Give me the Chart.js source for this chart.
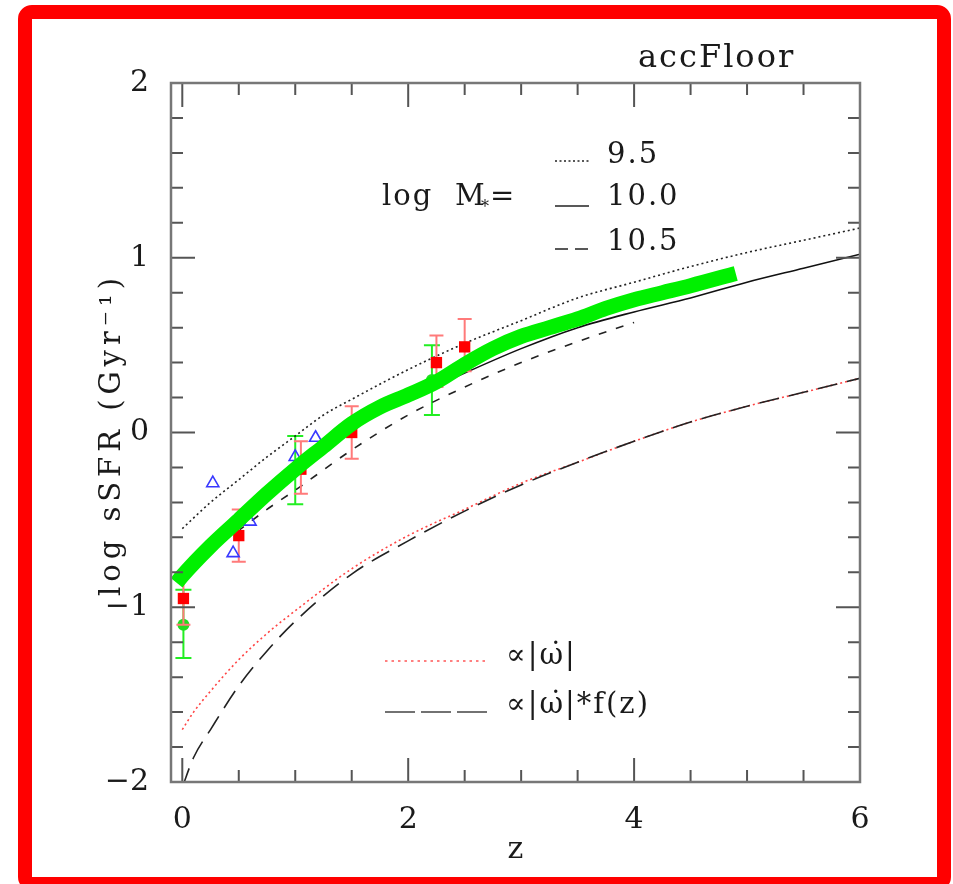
<!DOCTYPE html>
<html>
<head>
<meta charset="utf-8">
<script src="https://cdn.jsdelivr.net/npm/chart.js@4.4.1/dist/chart.umd.min.js"></script>
<style>
  html, body { margin:0; padding:0; background:#fff; }
  #wrap { position:relative; width:953px; height:884px; overflow:hidden; background:#fff; }
  #c { position:absolute; left:0; top:0; }
  #frame { position:absolute; left:18px; top:5px; width:933px; height:886px; box-sizing:border-box;
           border:14px solid #ff0000; border-radius:14px; pointer-events:none; }
</style>
</head>
<body>
<div id="wrap">
  <canvas id="c" width="953" height="884"></canvas>
  <div id="frame"></div>
</div>
<script>
// model curves, log sSFR vs z
var zCurve = [0, 0.25, 0.5, 0.75, 1, 1.25, 1.5, 2, 2.5, 3, 3.5, 4, 4.5, 5, 5.5, 6];
var sfr95  = [-0.55, -0.40, -0.27, -0.14, -0.02, 0.10, 0.19, 0.36, 0.51, 0.64, 0.77, 0.86, 0.95, 1.03, 1.10, 1.17];
var sfr100 = [-0.83, -0.65, -0.51, -0.36, -0.22, -0.09, 0.03, 0.19, 0.34, 0.48, 0.60, 0.69, 0.77, 0.86, 0.94, 1.02];
var zDash  = [0, 0.25, 0.5, 0.75, 1, 1.5, 2, 2.5, 3, 3.5, 4];
var sfr105 = [-0.83, -0.68, -0.56, -0.44, -0.33, -0.10, 0.10, 0.26, 0.40, 0.52, 0.63];
var zOmega = [0, 0.1, 0.25, 0.5, 0.75, 1, 1.5, 2, 2.5, 3, 3.5, 4, 4.5, 5, 5.5, 6];
var omega  = [-1.70, -1.60, -1.48, -1.30, -1.15, -1.02, -0.78, -0.59, -0.44, -0.29, -0.17, -0.05, 0.06, 0.15, 0.23, 0.31];
var omegaF = [-2.03, -1.86, -1.70, -1.45, -1.25, -1.08, -0.81, -0.62, -0.45, -0.30, -0.17, -0.05, 0.06, 0.15, 0.23, 0.31];
// thick green band
var zGreen    = [-0.05, 0, 0.25, 0.5, 0.75, 1, 1.25, 1.5, 1.75, 2, 2.25, 2.5, 2.75, 3, 3.25, 3.5, 3.75, 4, 4.25, 4.5, 4.9];
var greenLine = [-0.86, -0.82, -0.65, -0.50, -0.35, -0.21, -0.08, 0.05, 0.145, 0.215, 0.29, 0.39, 0.48, 0.55, 0.60, 0.65, 0.71, 0.76, 0.80, 0.84, 0.91];

// observations
var zRed  = [0.01, 0.5, 1.05, 1.5, 2.25, 2.5];
var yRed  = [-0.95, -0.59, -0.21, 0.0, 0.40, 0.49];
var hiRed = [-0.82, -0.44, -0.05, 0.15, 0.555, 0.65];
var loRed = [-1.10, -0.74, -0.35, -0.15, 0.26, 0.35];
var zGrn  = [0.01, 1.0, 2.21];
var yGrn  = [-1.10, -0.21, 0.30];
var hiGrn = [-0.90, -0.02, 0.50];
var loGrn = [-1.29, -0.41, 0.10];
var zBlue = [0.27, 0.45, 0.6, 1.0, 1.18];
var yBlue = [-0.29, -0.69, -0.51, -0.14, -0.03];

var xTickVals = [0, 2, 4, 6];
var yTickVals = [-2, -1, 0, 1, 2];

var serif = "'DejaVu Serif', 'Liberation Serif', serif";

function pts(xs, ys) {
  return xs.map(function (x, i) { return { x: x, y: ys[i] }; });
}

function curve(xs, ys, color, dash, width, order) {
  return {
    data: pts(xs, ys), showLine: true, pointRadius: 0, borderColor: color,
    borderWidth: width, borderDash: dash, borderCapStyle: 'butt',
    cubicInterpolationMode: 'monotone', clip: 0, order: order
  };
}

function drawBars(ctx, chart, xs, lo, hi, color, cap) {
  var sx = chart.scales.x, sy = chart.scales.y;
  ctx.save();
  ctx.strokeStyle = color;
  ctx.lineWidth = 2;
  for (var i = 0; i < xs.length; i++) {
    var px = sx.getPixelForValue(xs[i]);
    var p1 = sy.getPixelForValue(lo[i]);
    var p2 = sy.getPixelForValue(hi[i]);
    ctx.beginPath();
    ctx.moveTo(px, p1); ctx.lineTo(px, p2);
    ctx.moveTo(px - cap, p1); ctx.lineTo(px + cap, p1);
    ctx.moveTo(px - cap, p2); ctx.lineTo(px + cap, p2);
    ctx.stroke();
  }
  ctx.restore();
}

var errorBars = {
  id: 'errorBars',
  beforeDatasetsDraw: function (chart) {
    drawBars(chart.ctx, chart, zGrn, loGrn, hiGrn, '#22ee22', 8);
  },
  afterDatasetDraw: function (chart, args) {
    if (args.index === 5) drawBars(chart.ctx, chart, zRed, loRed, hiRed, '#ff7a7a', 7);
  }
};

var frameTicks = {
  id: 'frameTicks',
  afterDraw: function (chart) {
    var ctx = chart.ctx, a = chart.chartArea, sx = chart.scales.x, sy = chart.scales.y;
    ctx.save();
    ctx.strokeStyle = '#555';
    ctx.lineWidth = 2;
    var v, p, len;
    for (v = 0; v <= 6.001; v += 0.5) {
      p = sx.getPixelForValue(v);
      len = (Math.abs(v % 2) < 0.01) ? 24 : 12;
      ctx.beginPath();
      ctx.moveTo(p, a.bottom); ctx.lineTo(p, a.bottom - len);
      ctx.moveTo(p, a.top); ctx.lineTo(p, a.top + len);
      ctx.stroke();
    }
    for (v = -2; v <= 2.001; v += 0.2) {
      p = sy.getPixelForValue(v);
      len = (Math.abs(v - Math.round(v)) < 0.01) ? 24 : 12;
      ctx.beginPath();
      ctx.moveTo(a.left, p); ctx.lineTo(a.left + len, p);
      ctx.moveTo(a.right, p); ctx.lineTo(a.right - len, p);
      ctx.stroke();
    }
    ctx.strokeStyle = '#777';
    ctx.lineWidth = 2.5;
    ctx.strokeRect(a.left, a.top, a.right - a.left, a.bottom - a.top);
    ctx.restore();
  }
};

function txt(ctx, s, x, y, size, spacing) {
  ctx.font = size + 'px ' + serif;
  ctx.letterSpacing = (spacing || 0) + 'px';
  ctx.fillText(s, x, y);
}

function seg(ctx, x1, x2, y, color, dash) {
  ctx.beginPath();
  ctx.strokeStyle = color;
  ctx.lineWidth = 1.6;
  ctx.setLineDash(dash);
  ctx.moveTo(x1, y); ctx.lineTo(x2, y);
  ctx.stroke();
}

var labels = {
  id: 'labels',
  afterDraw: function (chart) {
    var ctx = chart.ctx;
    ctx.save();
    ctx.fillStyle = '#1a1a1a';
    ctx.textBaseline = 'alphabetic';
    ctx.textAlign = 'left';
    txt(ctx, 'accFloor', 638, 67, 32, 2);

    // mass legend
    txt(ctx, 'log', 382, 205, 29, 2);
    txt(ctx, 'M', 455, 205, 29, 0);
    txt(ctx, '*', 481, 212, 16, 0);
    txt(ctx, '=', 490, 205, 29, 0);
    txt(ctx, '9.5', 607, 163, 29, 2);
    txt(ctx, '10.0', 607, 205, 29, 2);
    txt(ctx, '10.5', 607, 250, 29, 2);
    seg(ctx, 555, 589, 161, '#222', [2, 2.5]);
    seg(ctx, 555, 589, 206, '#222', []);
    seg(ctx, 555, 589, 249, '#222', [13, 7]);

    // omega legend
    txt(ctx, '\u221D|\u03C9\u0307|', 506, 664, 29, 2);
    txt(ctx, '\u221D|\u03C9\u0307|*f(z)', 506, 713, 29, 2);
    seg(ctx, 385, 488, 661, '#ff5555', [2.5, 4]);
    seg(ctx, 385, 488, 712, '#444', [30, 6]);

    // y axis title, stretched to the length it has in the original
    ctx.setLineDash([]);
    var title = 'log sSFR (Gyr\u207B\u00B9)';
    ctx.font = '29px ' + serif;
    ctx.letterSpacing = '0px';
    var w0 = ctx.measureText(title).width;
    var n = Array.from(title).length;
    var sp = (318 - w0) / (n - 1);
    ctx.translate(120, 596);
    ctx.rotate(-Math.PI / 2);
    ctx.textAlign = 'left';
    txt(ctx, title, 0, 0, 29, sp);
    ctx.restore();
  }
};

new Chart(document.getElementById('c'), {
  type: 'scatter',
  data: {
    datasets: [
      curve(zCurve, sfr95, '#222', [2, 3], 1.6, 9),
      curve(zCurve, sfr100, '#111', [], 1.6, 8),
      curve(zDash, sfr105, '#222', [8, 10], 1.6, 7),
      curve(zOmega, omega, '#ff4444', [2, 3], 1.6, 6),
      curve(zOmega, omegaF, '#222', [20, 10], 1.6, 5),
      { data: pts(zGrn, yGrn), pointStyle: 'circle', pointRadius: 6, backgroundColor: '#22dd22',
        borderWidth: 0, order: 4, clip: 0 },
      { data: pts(zRed, yRed), pointStyle: 'rect', pointRadius: 8, backgroundColor: '#ff0000',
        borderWidth: 0, order: 3, clip: 0 },
      { data: pts(zBlue, yBlue), pointStyle: 'triangle', pointRadius: 7, backgroundColor: 'rgba(0,0,0,0)',
        borderColor: '#3838ff', borderWidth: 1.6, order: 2, clip: 0 },
      curve(zGreen, greenLine, '#00f000', [], 15, 1)
    ]
  },
  options: {
    responsive: false,
    animation: false,
    devicePixelRatio: 1,
    layout: { padding: { top: 83, right: 93, left: 0, bottom: 0 } },
    plugins: { legend: { display: false }, tooltip: { enabled: false } },
    scales: {
      x: {
        type: 'linear', min: -0.1, max: 6,
        grid: { display: false, drawTicks: false },
        border: { display: false },
        afterBuildTicks: function (s) { s.ticks = xTickVals.map(function (v) { return { value: v }; }); },
        afterFit: function (s) { s.height = 102; },
        ticks: { color: '#1a1a1a', padding: 20, maxRotation: 0, font: { family: serif, size: 30 } },
        title: { display: true, text: 'z', color: '#1a1a1a', font: { family: serif, size: 30 },
                 padding: { top: 0, bottom: 16 } }
      },
      y: {
        type: 'linear', min: -2, max: 2,
        grid: { display: false, drawTicks: false },
        border: { display: false },
        afterBuildTicks: function (s) { s.ticks = yTickVals.map(function (v) { return { value: v }; }); },
        afterFit: function (s) { s.width = 171; },
        ticks: { color: '#1a1a1a', padding: 22, font: { family: serif, size: 30 },
                 callback: function (v) { return v < 0 ? '\u2212' + Math.abs(v) : String(v); } }
      }
    }
  },
  plugins: [errorBars, frameTicks, labels]
});
</script>
</body>
</html>
